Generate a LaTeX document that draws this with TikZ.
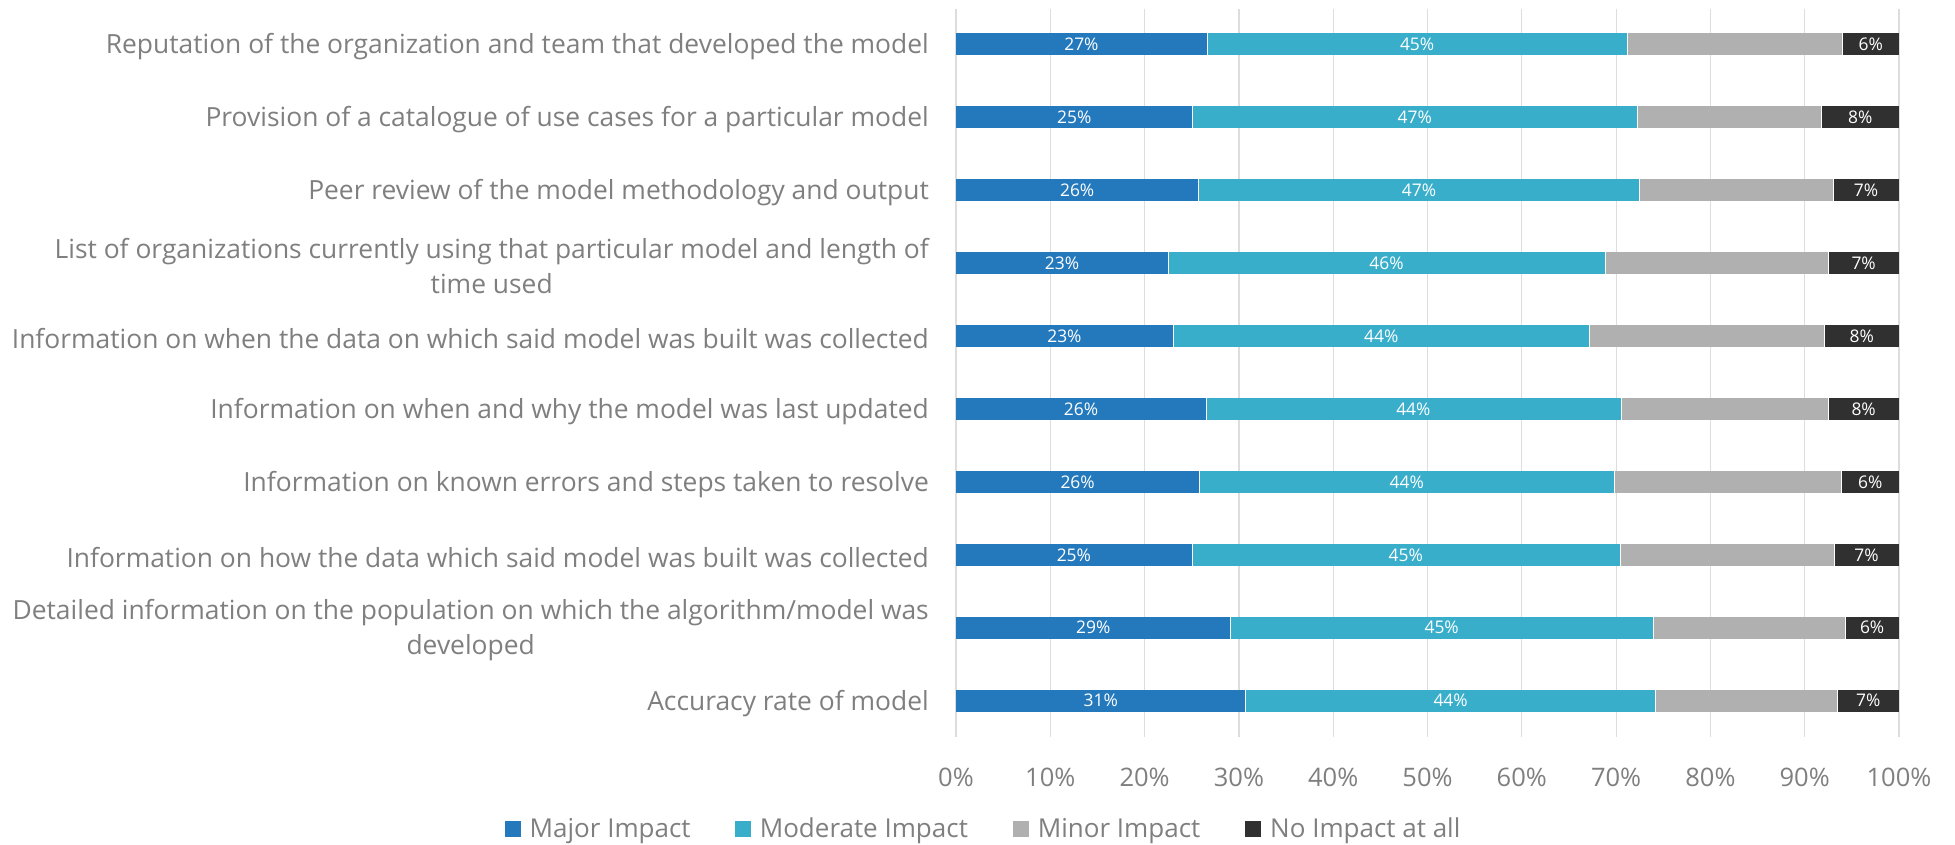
\documentclass[tikz,border=0pt]{standalone}
\usepackage{fontspec}
\setmainfont{Open Sans}
\definecolor{major}{HTML}{2479BD}
\definecolor{moderate}{HTML}{38AECB}
\definecolor{minor}{HTML}{B0B0B0}
\definecolor{noimp}{HTML}{303030}
\definecolor{txt}{HTML}{7F7F7F}
\definecolor{grid}{HTML}{DDDDDD}
\tikzset{
  gridline/.style={draw=grid, line width=1.2pt},
  cat/.style={anchor=east, text=txt, font=\fontsize{26.4}{35}\selectfont, align=center, inner sep=0pt, yshift=-2.5pt},
  tick/.style={text=txt, font=\fontsize{25.5}{28}\selectfont, inner sep=0pt},
  val/.style={text=white, font=\fontsize{17.4}{20}\selectfont, inner sep=0pt},
  legtxt/.style={anchor=west, text=txt, font=\fontsize{26}{28}\selectfont, inner sep=0pt, yshift=-2pt},
}
\begin{document}
\begin{tikzpicture}[x=1pt,y=-1pt]
\useasboundingbox (0,0) rectangle (1955,845);
\def\xa{956}\def\w{943}
% grid and ticks
\foreach \i in {0,...,10}{
  \pgfmathsetmacro{\gx}{\xa+\w*\i/10}
  \pgfmathtruncatemacro{\pc}{10*\i}
  \draw[gridline] (\gx,9) -- (\gx,737);
  \node[tick] (tick\i) at (\gx,777) {\pc\%};
}
% bars: row / major end / moderate end / minor end / major label / moderate label / none label
\foreach \r/\a/\b/\c/\la/\lb/\ld in {
  1/0.266/0.712/0.940/27/45/6,
  2/0.251/0.722/0.918/25/47/8,
  3/0.257/0.725/0.930/26/47/7,
  4/0.225/0.688/0.925/23/46/7,
  5/0.230/0.672/0.921/23/44/8,
  6/0.265/0.705/0.925/26/44/8,
  7/0.258/0.698/0.939/26/44/6,
  8/0.250/0.704/0.931/25/45/7,
  9/0.291/0.739/0.943/29/45/6,
  10/0.307/0.742/0.935/31/44/7}{
  \pgfmathsetmacro{\yc}{44.5+72.9*(\r-1)}
  \pgfmathsetmacro{\xb}{\xa+\w*\a}
  \pgfmathsetmacro{\xc}{\xa+\w*\b}
  \pgfmathsetmacro{\xd}{\xa+\w*\c}
  \pgfmathsetmacro{\xe}{\xa+\w}
  \fill[major] (\xa,\yc-11) rectangle (\xb,\yc+11);
  \fill[moderate] (\xb,\yc-11) rectangle (\xc,\yc+11);
  \fill[minor] (\xc,\yc-11) rectangle (\xd,\yc+11);
  \fill[noimp] (\xd,\yc-11) rectangle (\xe,\yc+11);
  \draw[white, line width=0.5pt] (\xb,\yc-11) -- (\xb,\yc+11) (\xc,\yc-11) -- (\xc,\yc+11) (\xd,\yc-11) -- (\xd,\yc+11);
  \node[val] (va\r) at ({(\xa+\xb)/2},\yc) {\la\%};
  \node[val] (vb\r) at ({(\xb+\xc)/2},\yc) {\lb\%};
  \node[val] (vd\r) at ({(\xd+\xe)/2},\yc) {\ld\%};
}
% category labels
\node[cat] (c1) at (929,44.5) {Reputation of the organization and team that developed the model};
\node[cat] (c2) at (929,117.4) {Provision of a catalogue of use cases for a particular model};
\node[cat] (c3) at (929,190.3) {Peer review of the model methodology and output};
\node[cat] (c4) at (929,263.2) {List of organizations currently using that particular model and length of\\time used};
\node[cat] (c5) at (929,336.1) {Information on when the data on which said model was built was collected};
\node[cat] (c6) at (929,409.0) {Information on when and why the model was last updated};
\node[cat] (c7) at (929,481.9) {Information on known errors and steps taken to resolve};
\node[cat] (c8) at (929,554.8) {Information on how the data which said model was built was collected};
\node[cat] (c9) at (929,627.7) {Detailed information on the population on which the algorithm/model was\\developed};
\node[cat] (c10) at (929,700.6) {Accuracy rate of model};
% legend
\fill[major] (505,821) rectangle (521,837);
\node[legtxt] (l1) at (529.5,829) {Major Impact};
\fill[moderate] (735,821) rectangle (751,837);
\node[legtxt] (l2) at (759.6,829) {Moderate Impact};
\fill[minor] (1013,821) rectangle (1029,837);
\node[legtxt] (l3) at (1037.7,829) {Minor Impact};
\fill[noimp] (1245,821) rectangle (1261,837);
\node[legtxt] (l4) at (1270,829) {No Impact at all};
\end{tikzpicture}
\end{document}
